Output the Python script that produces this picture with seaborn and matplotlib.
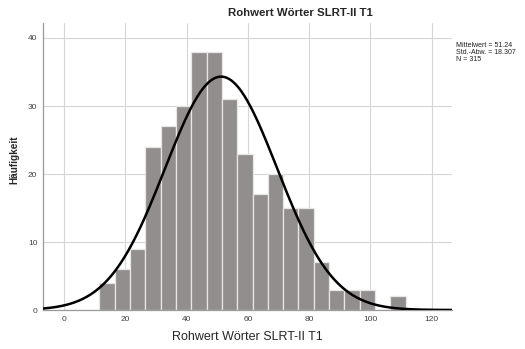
import numpy as np
import matplotlib
matplotlib.use("Agg")
import matplotlib.pyplot as plt
import seaborn as sns

# histogram (bin width 5)
bin_starts = [11.5, 16.5, 21.5, 26.5, 31.5, 36.5, 41.5, 46.5, 51.5, 56.5,
              61.5, 66.5, 71.5, 76.5, 81.5, 86.5, 91.5, 96.5, 101.5, 106.5]
counts = [4, 6, 9, 24, 27, 30, 38, 38, 31, 23,
          17, 20, 15, 15, 7, 3, 3, 3, 0, 2]
bin_width = 5
mean_val = 51.24
sd_val = 18.307
n_total = 315
title = "Rohwert Wörter SLRT-II T1"

sns.set_style("white")
plt.rcParams['font.family'] = ['Liberation Sans', 'DejaVu Sans']

fig = plt.figure(figsize=(5.25, 3.49), dpi=100)
ax = fig.add_axes([0.0819, 0.1117, 0.779, 0.8223])

edges = bin_starts + [bin_starts[-1] + bin_width]
centers = [b + bin_width / 2 for b in bin_starts]
sns.histplot(x=centers, weights=counts, bins=edges, ax=ax, stat="count",
             color="#928e8d", alpha=1, edgecolor="#e6e6e6", linewidth=0.9, zorder=2)

# fitted normal curve scaled to counts
xs = np.linspace(-7, 127, 400)
ys = n_total * bin_width * np.exp(-0.5 * ((xs - mean_val) / sd_val) ** 2) / (sd_val * np.sqrt(2 * np.pi))
sns.lineplot(x=xs, y=ys, ax=ax, color="black", linewidth=1.8, zorder=3)

ax.set_xlim(-6.9, 126.6)
ax.set_ylim(0, 42.2)
ax.set_xticks(range(0, 121, 20))
ax.set_yticks(range(0, 41, 10))
ax.grid(True, color="#d6d6d6", linewidth=0.8, zorder=0)
ax.set_axisbelow(True)
ax.tick_params(axis="both", length=0, labelsize=6, labelcolor="#404040", pad=4)
for side in ["top", "right"]:
    ax.spines[side].set_visible(False)
for side in ["left", "bottom"]:
    ax.spines[side].set_color("#9a9a9a")
    ax.spines[side].set_linewidth(0.9)

ax.set_xlabel(title, fontsize=9, labelpad=6)
ax.set_ylabel("Häufigkeit", fontsize=7.2, fontweight="bold")
ax.yaxis.set_label_coords(-0.057, 0.523)

fig.text(0.573, 0.963, title, ha="center", va="center", fontsize=8.2, fontweight="bold")
fig.text(0.868, 0.88, f"Mittelwert = {mean_val}\nStd.-Abw. = {sd_val}\nN = {n_total}",
         ha="left", va="top", fontsize=5, linespacing=1.0, color="#202020")

fig.savefig("out.png", dpi=100)
